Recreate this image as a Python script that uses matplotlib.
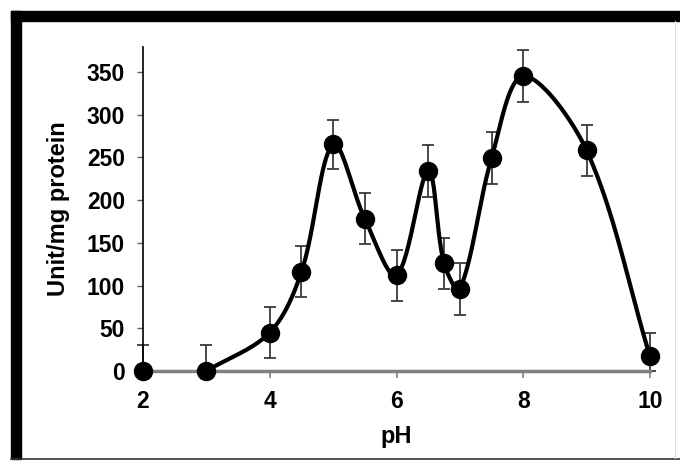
import matplotlib
matplotlib.use("Agg")
import matplotlib.pyplot as plt
import numpy as np
from matplotlib.patches import Rectangle
from matplotlib.lines import Line2D

# enzyme activity vs pH
ph = [2, 3, 4, 4.5, 5, 5.5, 6, 6.5, 6.75, 7, 7.5, 8, 9, 10]
activity = [0, 0, 45, 116, 265, 178, 112, 234, 126, 96, 249, 345, 258, 17]
err = [30, 30, 30, 30, 29, 30, 30, 30, 30, 30, 30, 30, 30, 28]

xticks = [2, 4, 6, 8, 10]
yticks = [0, 50, 100, 150, 200, 250, 300, 350]


def smooth(x, y, sx, sy, n=40):
    # bezier smoothing; control arms scale with the neighbouring chord lengths
    p = np.column_stack([np.asarray(x, float) * sx, np.asarray(y, float) * sy])
    p = np.vstack([p[0], p, p[-1]])
    t = np.linspace(0, 1, n)[:, None]
    out = []
    for i in range(1, len(p) - 2):
        p0, p1, p2, p3 = p[i - 1], p[i], p[i + 1], p[i + 2]
        d01 = np.hypot(*(p1 - p0))
        d12 = np.hypot(*(p2 - p1))
        d23 = np.hypot(*(p3 - p2))
        b1 = p1 + (p2 - p0) * d12 / max(d01 + d12, 1e-9) / 3
        b2 = p2 - (p3 - p1) * d12 / max(d12 + d23, 1e-9) / 3
        seg = (1 - t) ** 3 * p1 + 3 * (1 - t) ** 2 * t * b1 \
            + 3 * (1 - t) * t ** 2 * b2 + t ** 3 * p2
        out.append(seg)
    out = np.vstack(out)
    return out[:, 0] / sx, out[:, 1] / sy


plt.rcParams['font.family'] = ['Liberation Sans', 'DejaVu Sans']
plt.rcParams['font.weight'] = 'bold'

fig = plt.figure(figsize=(6.8, 4.61), dpi=100)
ax = fig.add_axes([143 / 680, 1 - 371 / 461, 507 / 680, 324 / 461])

ax.set_xlim(2, 10)
ax.set_ylim(0, 379)

# lower bars stop at zero
lower = [min(e, a) for e, a in zip(err, activity)]
ax.errorbar(ph, activity, yerr=[lower, err], fmt='none', ecolor='#3a3a3a',
            elinewidth=1.3, capsize=4, capthick=1.3, clip_on=False, zorder=2)
cx, cy = smooth(ph[1:], activity[1:], 507 / 8, 324 / 379)
ax.plot(cx, cy, color='black', lw=3, clip_on=False, zorder=3)
ax.plot(ph, activity, 'o', color='black', ms=13, clip_on=False, zorder=4)

ax.set_xticks(xticks)
ax.set_yticks(yticks)
ax.tick_params(axis='both', labelsize=16.5)
ax.tick_params(axis='x', length=5, width=1.2, pad=9, colors='#808080',
               labelcolor='black')
ax.tick_params(axis='y', length=4, width=1, pad=9, colors='#606060',
               labelcolor='black')
for lab in ax.get_xticklabels() + ax.get_yticklabels():
    lab.set_fontweight('bold')

for s in ('top', 'right'):
    ax.spines[s].set_visible(False)
ax.spines['left'].set_linewidth(1.2)
ax.spines['bottom'].set_color('#808080')
ax.spines['bottom'].set_linewidth(2.5)

ax.set_xlabel('pH', fontsize=17, fontweight='bold', labelpad=8)
ax.set_ylabel('Unit/mg protein', fontsize=17, fontweight='bold', labelpad=12)

# outer frame
W, H = 680, 461
fig.add_artist(Rectangle((11 / W, 1 - 21 / H), 1, 10 / H, color='black',
                         transform=fig.transFigure))
fig.add_artist(Rectangle((11 / W, 1 - 459 / H), 10 / W, 448 / H, color='black',
                         transform=fig.transFigure))
fig.add_artist(Line2D([11 / W, 1], [1 - 458.5 / H] * 2, color='#333333', lw=1.2,
                      transform=fig.transFigure))
fig.add_artist(Line2D([675 / W] * 2, [1 - 21 / H, 1 - 458 / H], color='#dddddd',
                      lw=0.8, transform=fig.transFigure))

fig.savefig('out.png', dpi=100)
